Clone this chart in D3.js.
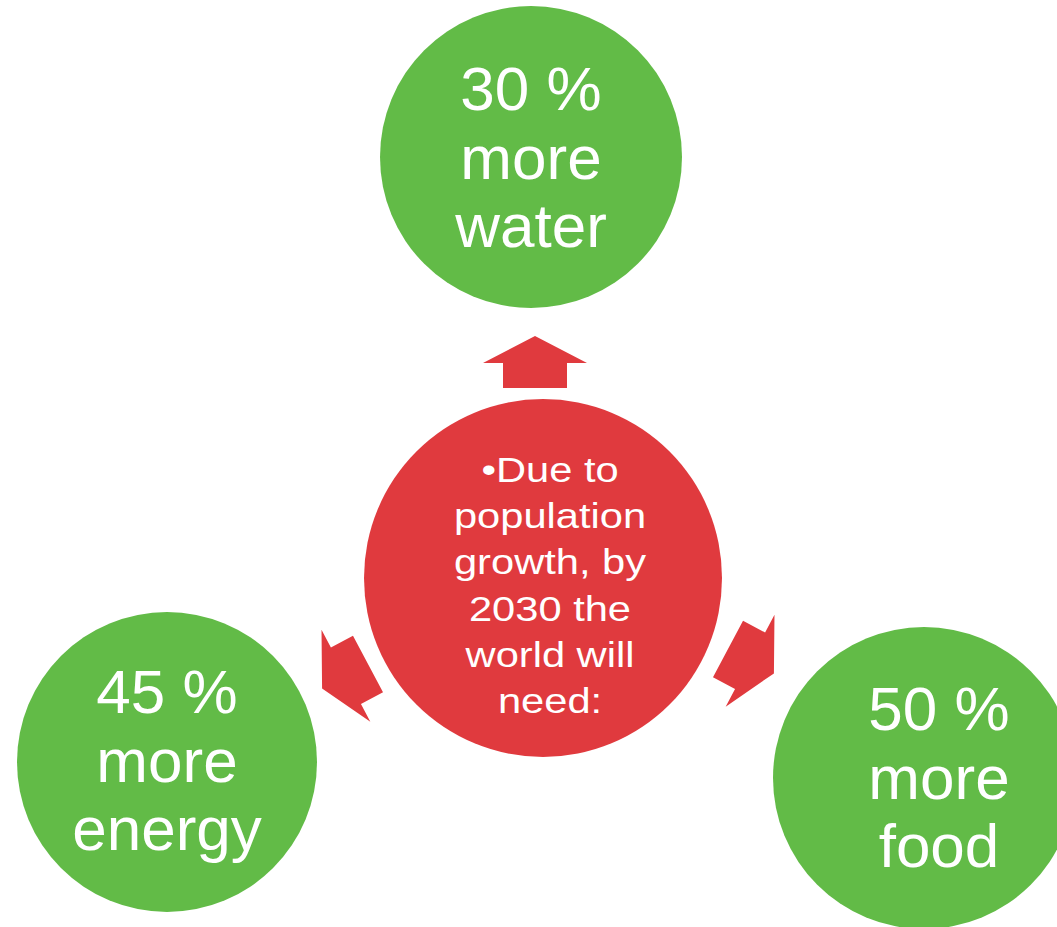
<!DOCTYPE html>
<html>
<head>
<meta charset="utf-8">
<script src="https://cdn.jsdelivr.net/npm/d3@7"></script>
<style>
  html, body { margin: 0; padding: 0; background: #fff; }
  text { font-family: "Liberation Sans", Arial, sans-serif; fill: #fff; }
</style>
</head>
<body>
<div id="chart"></div>
<script>
// Labels of the three outer circles.
var outerLines = [
    ['30 %', 'more', 'water'],
    ['45 %', 'more', 'energy'],
    ['50 %', 'more', 'food']
];
// Text of the central circle.
var centerLines = ['\u2022Due to', 'population', 'growth, by', '2030 the', 'world will', 'need:'];

// Layout of the diagram (pixels).
var width = 1057, height = 927;
var green = '#62bb47', red = '#e03a3e';
var center = {cx: 543, cy: 578, r: 179, tx: 550, ty: 482};
var outer = [
    {cx: 531, cy: 157, r: 151, tx: 531, ty: 110},
    {cx: 167, cy: 762, r: 150, tx: 167, ty: 713},
    {cx: 924, cy: 778, r: 151, tx: 939, ty: 730}
];
var arrows = [
    {x: 535, y: 388, angle: -90},
    {x: 368, y: 664, angle: 152},
    {x: 728, y: 649, angle: 28}
];

var svg = d3.select('#chart').append('svg')
    .attr('width', width)
    .attr('height', height);

// Arrow shape, pointing along +x from the shaft base.
var arrowShape = [[0, -32], [25, -32], [25, -52], [52, 0], [25, 52], [25, 32], [0, 32]];
svg.selectAll('.arrow')
    .data(arrows)
    .enter()
    .append('polygon')
    .attr('class', 'arrow')
    .attr('points', arrowShape.map(function (p) { return p.join(','); }).join(' '))
    .attr('transform', function (d) { return 'translate(' + d.x + ',' + d.y + ') rotate(' + d.angle + ')'; })
    .style('fill', red);

// Central circle.
svg.append('circle')
    .attr('cx', center.cx).attr('cy', center.cy).attr('r', center.r)
    .style('fill', red);
var ct = svg.append('g')
    .attr('transform', 'translate(' + center.tx + ',' + center.ty + ') scale(1.19,1)');
ct.selectAll('text')
    .data(centerLines)
    .enter()
    .append('text')
    .attr('x', 0)
    .attr('y', function (d, i) { return i * 46.2; })
    .attr('text-anchor', 'middle')
    .style('font-size', '35px')
    .text(function (d) { return d; });

// Outer circles.
var g = svg.selectAll('.outer')
    .data(outer)
    .enter()
    .append('g')
    .attr('class', 'outer');
g.append('circle')
    .attr('cx', function (d) { return d.cx; })
    .attr('cy', function (d) { return d.cy; })
    .attr('r', function (d) { return d.r; })
    .style('fill', green);
g.each(function (d, k) {
    d3.select(this).selectAll('text')
        .data(outerLines[k])
        .enter()
        .append('text')
        .attr('x', d.tx)
        .attr('y', function (t, i) { return d.ty + i * 68.5; })
        .attr('text-anchor', 'middle')
        .style('font-size', '62px')
        .text(function (t) { return t; });
});
</script>
</body>
</html>
